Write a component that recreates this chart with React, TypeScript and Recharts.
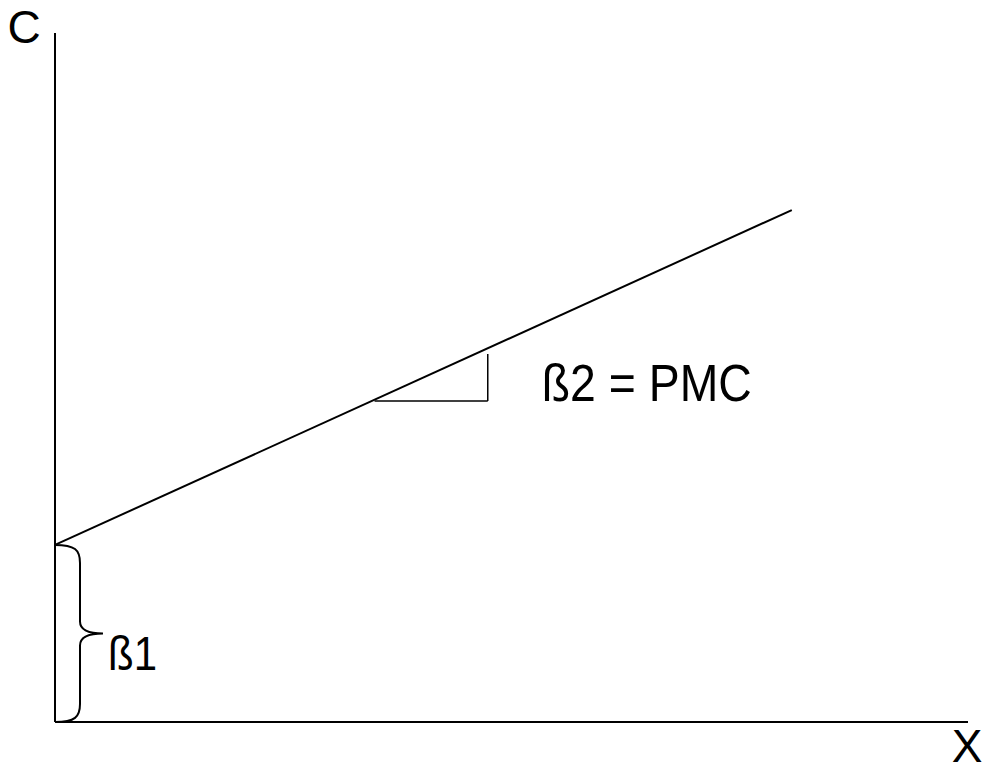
import { Line, LineChart, ReferenceLine, XAxis, YAxis } from "recharts";

const FONT = "'Liberation Sans', Arial, sans-serif";

// consumption function C = b1 + b2 * X
const xDomain = [0, 100];
const yDomain = [0, 100];
const consumption = [
  { x: 0, y: 25.7 },
  { x: 80.7, y: 74.3 }
];
const intercept = 25.7;
// slope triangle
const runStartX = 35;
const runEndX = 47.4;
const runY = 46.6;
const riseTopY = 53.4;

const axisLabels = { y: "C", x: "X" };
const interceptLabel = "ß1";
const slopeLabel = "ß2 = PMC";

function YAxisLine(props: any) {
  const top = Math.min(props.y1, props.y2);
  const bottom = Math.max(props.y1, props.y2);
  return (
    <g>
      <line x1={props.x1} y1={top} x2={props.x1} y2={bottom} stroke="#000" strokeWidth={2} />
      <text x={props.x1 - 31} y={top + 10} textAnchor="middle" fontSize={46} fontFamily={FONT} fill="#000">
        {axisLabels.y}
      </text>
    </g>
  );
}

function XAxisLine(props: any) {
  const left = Math.min(props.x1, props.x2);
  const right = Math.max(props.x1, props.x2);
  return (
    <g>
      <line x1={left} y1={props.y1} x2={right} y2={props.y1} stroke="#000" strokeWidth={2} />
      <text x={right - 1} y={props.y1 + 40} textAnchor="middle" fontSize={46} fontFamily={FONT} fill="#000">
        {axisLabels.x}
      </text>
    </g>
  );
}

function Brace(props: any) {
  const x = props.x1;
  const top = Math.min(props.y1, props.y2);
  const bottom = Math.max(props.y1, props.y2);
  const mid = (top + bottom) / 2;
  const d = [
    `M ${x} ${top}`,
    `C ${x + 20} ${top} ${x + 25} ${top + 5} ${x + 25} ${top + 18}`,
    `L ${x + 25} ${mid - 12}`,
    `C ${x + 25} ${mid - 3} ${x + 35} ${mid} ${x + 48} ${mid}`,
    `C ${x + 35} ${mid} ${x + 25} ${mid + 3} ${x + 25} ${mid + 12}`,
    `L ${x + 25} ${bottom - 18}`,
    `C ${x + 25} ${bottom - 5} ${x + 20} ${bottom} ${x} ${bottom}`
  ].join(" ");
  return (
    <g>
      <path d={d} fill="none" stroke="#000" strokeWidth={2} />
      <text x={x + 53} y={mid + 37} fontSize={49} fontFamily={FONT} fill="#000" textLength={49} lengthAdjust="spacingAndGlyphs">
        {interceptLabel}
      </text>
    </g>
  );
}

function Rise(props: any) {
  const top = Math.min(props.y1, props.y2);
  const bottom = Math.max(props.y1, props.y2);
  return (
    <g>
      <line x1={props.x1} y1={top} x2={props.x1} y2={bottom} stroke="#000" strokeWidth={1.5} />
      <text x={props.x1 + 54} y={bottom} fontSize={52} fontFamily={FONT} fill="#000" textLength={210} lengthAdjust="spacingAndGlyphs">
        {slopeLabel}
      </text>
    </g>
  );
}

export default function App() {
  return (
    <div style={{ position: "absolute", left: 0, top: 0, background: "#fff" }}>
      <LineChart width={982} height={766} margin={{ top: 33, right: 14, bottom: 44, left: 55 }}>
        <XAxis type="number" dataKey="x" domain={xDomain} height={0} hide />
        <YAxis type="number" dataKey="y" domain={yDomain} width={0} hide />
        <ReferenceLine
          segment={[
            { x: 0, y: 0 },
            { x: 0, y: 100 }
          ]}
          shape={YAxisLine}
        />
        <ReferenceLine
          segment={[
            { x: 0, y: 0 },
            { x: 100, y: 0 }
          ]}
          shape={XAxisLine}
        />
        <Line
          data={consumption}
          dataKey="y"
          type="linear"
          stroke="#000"
          strokeWidth={2}
          dot={false}
          activeDot={false}
          isAnimationActive={false}
        />
        <ReferenceLine
          segment={[
            { x: runStartX, y: runY },
            { x: runEndX, y: runY }
          ]}
          stroke="#000"
          strokeWidth={1.5}
        />
        <ReferenceLine
          segment={[
            { x: runEndX, y: runY },
            { x: runEndX, y: riseTopY }
          ]}
          shape={Rise}
        />
        <ReferenceLine
          segment={[
            { x: 0, y: 0 },
            { x: 0, y: intercept }
          ]}
          shape={Brace}
        />
      </LineChart>
    </div>
  );
}
